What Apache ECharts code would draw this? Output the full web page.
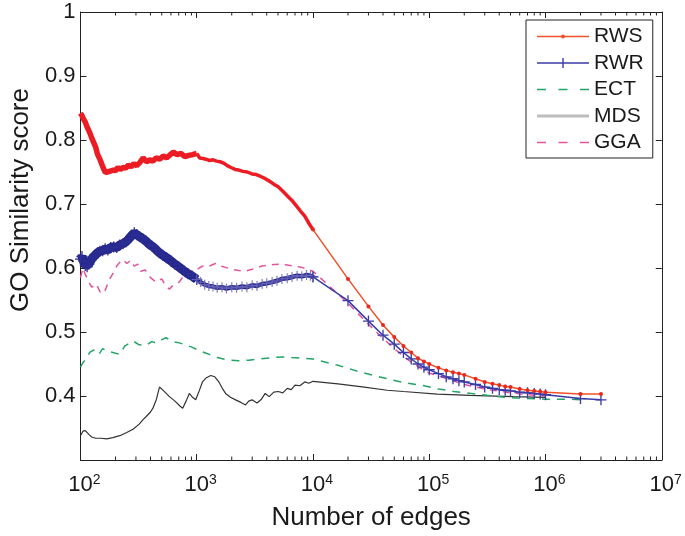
<!DOCTYPE html>
<html>
<head>
<meta charset="utf-8">
<script src="https://cdn.jsdelivr.net/npm/echarts@6/dist/echarts.min.js"></script>
<style>
html,body{margin:0;padding:0;background:#fff;}
#chart{width:685px;height:536px;}
</style>
</head>
<body>
<div id="chart"></div>
<script>
// ---------------- DATA ----------------
const xTickExponents = [2, 3, 4, 5, 6, 7];
const yTickLabels = ['0.4', '0.5', '0.6', '0.7', '0.8', '0.9', '1'];
const legendNames = ['RWS', 'RWR', 'ECT', 'MDS', 'GGA'];

// RWS: dense part 100-1000
const rwsEdgesA = [100,103,106,110,113,117,121,125,130,135,140,146,152,158,164,170,177,184,192,200,210,220,232,245,258,272,288,305,325,346,370,395,420,447,480,515,550,590,630,680,730,790,850,920,1000];
const rwsScoreA = [0.842,0.838,0.833,0.828,0.822,0.816,0.810,0.803,0.796,0.789,0.778,0.771,0.763,0.755,0.749,0.746,0.751,0.749,0.753,0.752,0.757,0.754,0.757,0.756,0.761,0.758,0.763,0.760,0.765,0.772,0.766,0.769,0.767,0.772,0.770,0.775,0.772,0.777,0.781,0.777,0.779,0.774,0.776,0.777,0.779];
// RWS: dense part 1000-10000
const rwsEdgesB = [1000,1060,1130,1200,1290,1380,1480,1590,1700,1830,1970,2140,2300,2500,2720,2990,3250,3550,3860,4200,4600,5020,5500,6000,6560,7200,7800,8500,9200,10000];
const rwsScoreB = [0.779,0.772,0.771,0.770,0.768,0.769,0.767,0.766,0.764,0.760,0.757,0.754,0.753,0.751,0.750,0.747,0.746,0.743,0.740,0.736,0.731,0.727,0.720,0.713,0.706,0.697,0.689,0.681,0.670,0.660];
// RWS / RWR: sparse part
const sparseEdges = [10000,20000,30000,40000,50000,60000,70000,80000,90000,100000,120000,140000,160000,180000,200000,250000,300000,350000,400000,450000,500000,600000,700000,800000,900000,1000000,2000000,3000000];
const rwsScoreC = [0.660,0.583,0.540,0.511,0.492,0.478,0.468,0.459,0.454,0.450,0.444,0.440,0.437,0.435,0.433,0.427,0.422,0.419,0.417,0.415,0.414,0.411,0.409,0.408,0.407,0.406,0.403,0.403];
const rwrScoreC = [0.586,0.549,0.517,0.495,0.481,0.468,0.458,0.450,0.445,0.441,0.435,0.430,0.427,0.424,0.422,0.418,0.414,0.412,0.410,0.409,0.408,0.406,0.405,0.404,0.403,0.402,0.396,0.394];

// RWR: dense part 100-1000
const rwrEdgesA = [100,103,106,110,114,118,123,128,134,140,147,155,163,172,182,193,205,218,232,247,262,276,290,305,322,342,365,390,415,445,475,510,550,600,650,710,770,840,920,1000];
const rwrScoreA = [0.614,0.618,0.611,0.604,0.602,0.606,0.612,0.617,0.620,0.624,0.626,0.627,0.630,0.628,0.632,0.633,0.632,0.636,0.638,0.641,0.646,0.651,0.655,0.652,0.649,0.646,0.642,0.637,0.634,0.629,0.624,0.620,0.616,0.611,0.606,0.601,0.596,0.591,0.587,0.582];
// RWR: dense part 1000-10000
const rwrEdgesB = [1000,1080,1170,1270,1380,1500,1650,1800,2000,2200,2450,2700,3000,3300,3650,4000,4450,4900,5400,6000,6600,7300,8000,8800,9500,10000];
const rwrScoreB = [0.582,0.578,0.574,0.572,0.571,0.569,0.570,0.568,0.570,0.569,0.571,0.570,0.573,0.572,0.575,0.576,0.578,0.580,0.583,0.584,0.586,0.588,0.587,0.589,0.588,0.586];

// ECT
const ectEdges = [100,105,112,120,133,145,155,168,190,218,240,260,283,320,368,410,448,500,545,620,707,800,920,1050,1280,1500,1890,2300,2810,3500,4440,5500,6570,8000,10000,16400,26000,43500,60000,85000,120000,163000,230000,316000,450000,565000,1000000,1600000,2000000];
const ectScore = [0.445,0.452,0.458,0.468,0.473,0.466,0.474,0.471,0.468,0.465,0.478,0.482,0.486,0.480,0.479,0.485,0.483,0.488,0.491,0.485,0.483,0.480,0.476,0.471,0.465,0.460,0.456,0.455,0.456,0.458,0.460,0.461,0.460,0.459,0.458,0.448,0.437,0.427,0.421,0.417,0.411,0.407,0.404,0.401,0.398,0.397,0.395,0.395,0.394];

// MDS
const mdsEdges = [100,105,110,118,125,135,150,168,190,218,250,283,320,345,368,400,420,450,478,520,582,650,720,757,810,863,920,980,1050,1120,1200,1320,1430,1550,1660,1770,1950,2160,2400,2630,2800,2990,3300,3600,3880,4200,4600,5020,5500,6000,6500,7000,7700,8500,9200,10000,16400,27600,43500,60000,117000,224000,525000,1000000];
const mdsScore = [0.338,0.345,0.346,0.340,0.336,0.334,0.334,0.333,0.335,0.338,0.343,0.348,0.356,0.363,0.368,0.375,0.381,0.395,0.414,0.408,0.399,0.392,0.384,0.381,0.392,0.404,0.398,0.394,0.408,0.422,0.428,0.432,0.430,0.422,0.412,0.404,0.398,0.394,0.390,0.386,0.392,0.394,0.389,0.395,0.404,0.399,0.406,0.407,0.405,0.412,0.410,0.417,0.416,0.422,0.420,0.423,0.419,0.414,0.409,0.407,0.403,0.401,0.399,0.398];

// GGA
const ggaEdges = [100,105,110,118,125,137,150,163,175,191,205,220,233,250,270,290,310,330,360,400,447,500,540,582,640,706,760,800,870,950,1050,1150,1280,1450,1600,1770,2000,2300,2620,3000,3640,4300,5010,5800,6900,8000,9000,10000,20000,30000,40000,50000,60000,70000,80000,90000,100000,200000,300000,500000,700000,1000000];
const ggaScore = [0.585,0.600,0.590,0.578,0.570,0.575,0.560,0.565,0.580,0.592,0.603,0.610,0.613,0.607,0.612,0.603,0.606,0.595,0.597,0.585,0.578,0.583,0.572,0.567,0.575,0.578,0.586,0.590,0.596,0.594,0.600,0.604,0.603,0.607,0.603,0.601,0.598,0.596,0.595,0.598,0.603,0.605,0.606,0.605,0.603,0.601,0.598,0.595,0.545,0.512,0.490,0.474,0.462,0.453,0.446,0.440,0.436,0.418,0.411,0.405,0.402,0.400];

// minor tick multipliers on log axis
const minorMultipliers = [2,3,4,5,6,7,8,9];

// ---------------- BUILD ----------------
function zip(xs, ys) { return xs.map((x, i) => [x, ys[i]]); }
const minorTickValues = [];
xTickExponents.slice(0, -1).forEach(e => minorMultipliers.forEach(m => minorTickValues.push([m * Math.pow(10, e), 0.3])));

const FONT = 'Liberation Sans, Arial, Helvetica, sans-serif';
const plusPath = 'path://M4.4,0 h1.2 v4.4 h4.4 v1.2 h-4.4 v4.4 h-1.2 v-4.4 h-4.4 v-1.2 h4.4 z';
const AX = '#222';
const TXT = '#1a1a1a';

// legend icons (52 wide sample lines)
const iconRWS = 'path://M0,4.2 h52 v1.6 h-52 z M28,5 A2,2 0 1 1 24,5 A2,2 0 1 1 28,5 Z';
const iconRWR = 'path://M0,4.3 h52 v1.4 h-52 z M25.3,0 h1.4 v10 h-1.4 z';
const iconDash = 'path://M0,4.2 h9 v1.6 h-9 z M21.5,4.2 h9 v1.6 h-9 z M43,4.2 h9 v1.6 h-9 z';
const iconMDS = 'path://M0,3.4 h52 v3.2 h-52 z';

const chart = echarts.init(document.getElementById('chart'), null, {renderer: 'canvas'});

const axisCommonX = {
  type: 'log', logBase: 10, min: 100, max: 1e7, splitNumber: 5,
  axisLine: {show: true, lineStyle: {color: AX, width: 1}},
  axisTick: {show: true, inside: true, length: 6, lineStyle: {color: AX}},
  splitLine: {show: false}
};
const axisCommonY = {
  type: 'value', min: 0.3, max: 1, interval: 0.1,
  axisLine: {show: true, lineStyle: {color: AX, width: 1}},
  axisTick: {show: true, inside: true, length: 6, lineStyle: {color: AX}},
  splitLine: {show: false}
};

const option = {
  animation: false,
  backgroundColor: '#fff',
  textStyle: {fontFamily: FONT},
  grid: {left: 77, right: 22, top: 12, bottom: 66, containLabel: false},
  xAxis: [
    Object.assign({}, axisCommonX, {
      position: 'bottom',
      name: 'Number of edges', nameLocation: 'middle', nameGap: 45,
      nameTextStyle: {fontSize: 26, color: TXT, fontFamily: FONT},
      axisLabel: {
        margin: 13,
        formatter: function (v) {
          const e = Math.round(Math.log10(v));
          return '{sp|}{b|10}{e|' + e + '}';
        },
        rich: {
          sp: {width: 8},
          b: {fontSize: 22, color: TXT, fontFamily: FONT, lineHeight: 24},
          e: {fontSize: 14, color: TXT, fontFamily: FONT, verticalAlign: 'top', lineHeight: 13, width: 8}
        }
      }
    }),
    Object.assign({}, axisCommonX, {position: 'top', axisLabel: {show: false}})
  ],
  yAxis: [
    Object.assign({}, axisCommonY, {
      position: 'left',
      name: 'GO Similarity score', nameLocation: 'middle', nameGap: 44, nameRotate: 90,
      nameTextStyle: {fontSize: 26, color: TXT, fontFamily: FONT, padding: [0, 0, 0, 72]},
      axisLabel: {
        showMinLabel: false, margin: 5, fontSize: 22, color: TXT, fontFamily: FONT,
        formatter: function (v) {
          const s = (Math.round(v * 10) / 10);
          return s === 1 ? '1' : s.toFixed(1);
        }
      }
    }),
    Object.assign({}, axisCommonY, {position: 'right', axisLabel: {show: false}})
  ],
  legend: {
    data: [
      {name: 'RWS', icon: iconRWS, itemStyle: {color: '#f0502a', borderWidth: 0}},
      {name: 'RWR', icon: iconRWR, itemStyle: {color: '#3b3ba6', borderWidth: 0}},
      {name: 'ECT', icon: iconDash, itemStyle: {color: '#22a566', borderWidth: 0}},
      {name: 'MDS', icon: iconMDS, itemStyle: {color: '#bdbdbd', borderWidth: 0}},
      {name: 'GGA', icon: iconDash, itemStyle: {color: '#e2559d', borderWidth: 0}}
    ],
    symbolKeepAspect: true,
    orient: 'vertical', left: 526, top: 20,
    itemWidth: 52, itemHeight: 14, itemGap: 5.5,
    padding: [6, 9, 5, 11],
    borderColor: '#222', borderWidth: 1, backgroundColor: '#fff',
    textStyle: {fontSize: 21, color: TXT, fontFamily: FONT, lineHeight: 21}
  },
  series: [
    // minor ticks
    {
      type: 'custom', name: 'minorTicks', silent: true, clip: false, z: 1,
      data: minorTickValues,
      renderItem: function (params, api) {
        const pb = api.coord([api.value(0), 0.3]);
        const pt = api.coord([api.value(0), 1]);
        return {type: 'group', children: [
          {type: 'line', shape: {x1: pb[0], y1: pb[1], x2: pb[0], y2: pb[1] - 3.5}, style: {stroke: AX, lineWidth: 1}},
          {type: 'line', shape: {x1: pt[0], y1: pt[1], x2: pt[0], y2: pt[1] + 3.5}, style: {stroke: AX, lineWidth: 1}}
        ]};
      }
    },
    // MDS
    {type: 'line', name: 'MDS', data: zip(mdsEdges, mdsScore), showSymbol: false, symbol: 'none',
      lineStyle: {color: '#333', width: 1.2}, itemStyle: {color: '#333'}, z: 2},
    // ECT
    {type: 'line', name: 'ECT', data: zip(ectEdges, ectScore), showSymbol: false, symbol: 'none',
      lineStyle: {color: '#22a566', width: 1.5, type: [8, 7]}, itemStyle: {color: '#22a566'}, z: 3},
    // GGA
    {type: 'line', name: 'GGA', data: zip(ggaEdges, ggaScore), showSymbol: false, symbol: 'none',
      lineStyle: {color: '#e2559d', width: 1.5, type: [7, 6]}, itemStyle: {color: '#e2559d'}, z: 4},
    // RWR dense
    {type: 'line', name: 'RWR_a', data: zip(rwrEdgesA, rwrScoreA), symbol: plusPath, symbolSize: 11,
      lineStyle: {color: '#23268a', width: 9}, itemStyle: {color: '#2c2d92'}, z: 5},
    {type: 'line', name: 'RWR_b', data: zip(rwrEdgesB, rwrScoreB), symbol: plusPath, symbolSize: 10,
      lineStyle: {color: '#23268a', width: 4.5}, itemStyle: {color: '#6e68ba', opacity: 0.85}, z: 5},
    // RWR sparse
    {type: 'line', name: 'RWR', data: zip(sparseEdges, rwrScoreC), symbol: plusPath, symbolSize: 11,
      lineStyle: {color: '#3b3ba6', width: 1.5}, itemStyle: {color: '#3b3ba6'}, z: 6},
    // RWS dense
    {type: 'line', name: 'RWS_a', data: zip(rwsEdgesA, rwsScoreA), showSymbol: false, symbol: 'none',
      lineStyle: {color: '#ec1c24', width: 5.5}, z: 7},
    {type: 'line', name: 'RWS_b', data: zip(rwsEdgesB, rwsScoreB), showSymbol: false, symbol: 'none',
      lineStyle: {color: '#ec1c24', width: 3.5}, z: 7},
    // RWS sparse
    {type: 'line', name: 'RWS', data: zip(sparseEdges, rwsScoreC), symbol: 'circle', symbolSize: 4,
      lineStyle: {color: '#f0502a', width: 1.5}, itemStyle: {color: '#e8281e'}, z: 8}
  ]
};
chart.setOption(option);
</script>
</body>
</html>
